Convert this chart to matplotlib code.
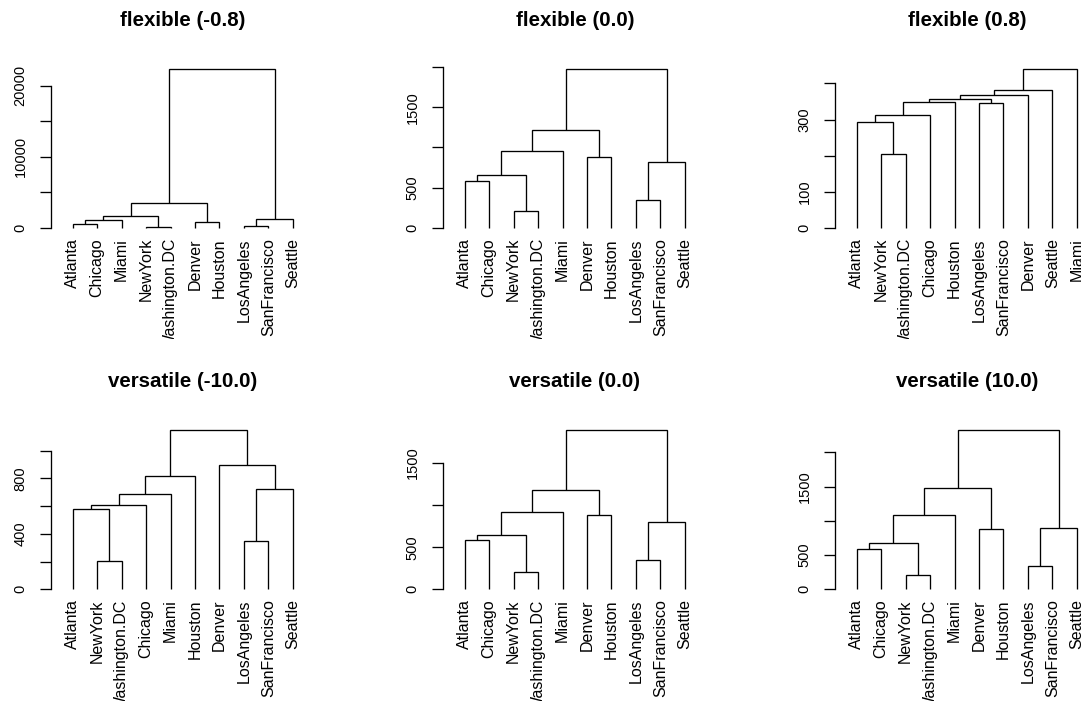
import matplotlib
matplotlib.use("Agg")
import matplotlib.pyplot as plt
from matplotlib.transforms import Bbox, TransformedBbox

plt.rcParams["font.family"] = ["Liberation Sans", "DejaVu Sans"]

W, H = 1081, 701
DPI = 100

titles = ["flexible (-0.8)", "flexible (0.0)", "flexible (0.8)",
          "versatile (-10.0)", "versatile (0.0)", "versatile (10.0)"]

# leaf order of each tree (left to right)
order_flex_neg = ["Atlanta", "Chicago", "Miami", "NewYork", "Washington.DC",
                  "Denver", "Houston", "LosAngeles", "SanFrancisco", "Seattle"]
order_flex_0 = ["Atlanta", "Chicago", "NewYork", "Washington.DC", "Miami",
                "Denver", "Houston", "LosAngeles", "SanFrancisco", "Seattle"]
order_flex_pos = ["Atlanta", "NewYork", "Washington.DC", "Chicago", "Houston",
                  "LosAngeles", "SanFrancisco", "Denver", "Seattle", "Miami"]
order_vers_neg = ["Atlanta", "NewYork", "Washington.DC", "Chicago", "Miami",
                  "Houston", "Denver", "LosAngeles", "SanFrancisco", "Seattle"]
order_vers_0 = order_flex_0
order_vers_pos = order_flex_0

# merges as (child, child, height); an int child is an earlier merge
merges_flex_neg = [("NewYork", "Washington.DC", 205), ("LosAngeles", "SanFrancisco", 347),
                   ("Atlanta", "Chicago", 587), ("Denver", "Houston", 879),
                   (2, "Miami", 1168), (1, "Seattle", 1215), (4, 0, 1729),
                   (6, 3, 3457), (7, 5, 22330)]
merges_flex_0 = [("NewYork", "Washington.DC", 205), ("LosAngeles", "SanFrancisco", 347),
                 ("Atlanta", "Chicago", 587), (2, 0, 653), (1, "Seattle", 818),
                 ("Denver", "Houston", 879), (3, "Miami", 955), (6, 5, 1223),
                 (7, 4, 1975)]
merges_flex_pos = [("NewYork", "Washington.DC", 205), ("Atlanta", 0, 293),
                   (1, "Chicago", 314), ("LosAngeles", "SanFrancisco", 347),
                   (2, "Houston", 349), (4, 3, 358), (5, "Denver", 367),
                   (6, "Seattle", 383), (7, "Miami", 440)]
merges_vers_neg = [("NewYork", "Washington.DC", 205), ("LosAngeles", "SanFrancisco", 347),
                   ("Atlanta", 0, 576), (2, "Chicago", 610), (3, "Miami", 689),
                   (1, "Seattle", 720), (4, "Houston", 814), ("Denver", 5, 896),
                   (6, 7, 1147)]
merges_vers_0 = [("NewYork", "Washington.DC", 205), ("LosAngeles", "SanFrancisco", 347),
                 ("Atlanta", "Chicago", 587), (2, 0, 643), (1, "Seattle", 802),
                 ("Denver", "Houston", 879), (3, "Miami", 921), (6, 5, 1179),
                 (7, 4, 1889)]
merges_vers_pos = [("NewYork", "Washington.DC", 205), ("LosAngeles", "SanFrancisco", 347),
                   ("Atlanta", "Chicago", 587), (2, 0, 683), ("Denver", "Houston", 879),
                   (1, "Seattle", 893), (3, "Miami", 1078), (6, 4, 1473),
                   (7, 5, 2322)]

yticks = [[0, 5000, 10000, 15000, 20000], [0, 500, 1000, 1500, 2000],
          [0, 100, 200, 300, 400], [0, 200, 400, 600, 800, 1000],
          [0, 500, 1000, 1500], [0, 500, 1000, 1500, 2000]]
ytick_labels = [["0", "", "10000", "", "20000"], ["0", "500", "", "1500", ""],
                ["0", "100", "", "300", ""], ["0", "", "400", "", "800", ""],
                ["0", "500", "", "1500"], ["0", "500", "", "1500", ""]]

orders = [order_flex_neg, order_flex_0, order_flex_pos,
          order_vers_neg, order_vers_0, order_vers_pos]
merges = [merges_flex_neg, merges_flex_0, merges_flex_pos,
          merges_vers_neg, merges_vers_0, merges_vers_pos]

# panel geometry in pixels
LEAF_STEP = 24.46
COL_AXIS_X = [50.7, 442.7, 834.7]
ROW_ZERO_Y = [228.0, 589.3]
TREE_PX = 159.0
ROW_CLIP_Y = [(0, 339), (339, 701)]


def px(v):
    return v * 72.0 / DPI


def draw_tree(ax, order, merge_list):
    pos = {name: (i + 1, 0.0) for i, name in enumerate(order)}
    nodes = []
    for a, b, h in merge_list:
        xa, ha = nodes[a] if isinstance(a, int) else pos[a]
        xb, hb = nodes[b] if isinstance(b, int) else pos[b]
        ax.plot([xa, xa, xb, xb], [ha, h, h, hb], color="black", lw=0.95,
                solid_joinstyle="miter", solid_capstyle="butt", clip_on=False)
        nodes.append(((xa + xb) / 2, h))
    return max(m[2] for m in merge_list)


fig = plt.figure(figsize=(W / DPI, H / DPI), dpi=DPI)

for k in range(6):
    row, col = divmod(k, 3)
    left = COL_AXIS_X[col]
    width = 10.8 * LEAF_STEP
    zero = ROW_ZERO_Y[row]
    top = zero - 1.04 * TREE_PX
    bottom = zero + 0.04 * TREE_PX
    ax = fig.add_axes([left / W, 1 - bottom / H, width / W, (bottom - top) / H])

    hmax = draw_tree(ax, orders[k], merges[k])
    ax.set_xlim(0.1, 10.9)
    ax.set_ylim(-0.04 * hmax, 1.04 * hmax)

    for s in ["top", "right", "bottom"]:
        ax.spines[s].set_visible(False)
    ax.spines["left"].set_linewidth(0.95)
    ax.spines["left"].set_bounds(0, yticks[k][-1])
    ax.set_xticks([])
    ax.set_yticks(yticks[k], ytick_labels[k])
    ax.tick_params(axis="y", length=px(11), width=0.95, pad=px(12), labelsize=10.5)
    for lbl in ax.get_yticklabels():
        lbl.set_rotation(90)
        lbl.set_va("center")

    y0, y1 = ROW_CLIP_Y[row]
    clip = TransformedBbox(Bbox.from_extents(0, 1 - y1 / H, 1, 1 - y0 / H), fig.transFigure)
    for i, name in enumerate(orders[k]):
        t = ax.annotate(name, xy=(i + 1, 0), xytext=(0, -px(10)), textcoords="offset points",
                        rotation=90, ha="center", va="top", fontsize=11.5,
                        annotation_clip=False)
        t.set_clip_on(True)
        t.set_clip_box(clip)

    fig.text((left + width / 2) / W, 1 - (zero - 202) / H, titles[k],
             ha="center", va="baseline", fontsize=14.8, fontweight="bold")

fig.savefig("out.png", dpi=DPI)
